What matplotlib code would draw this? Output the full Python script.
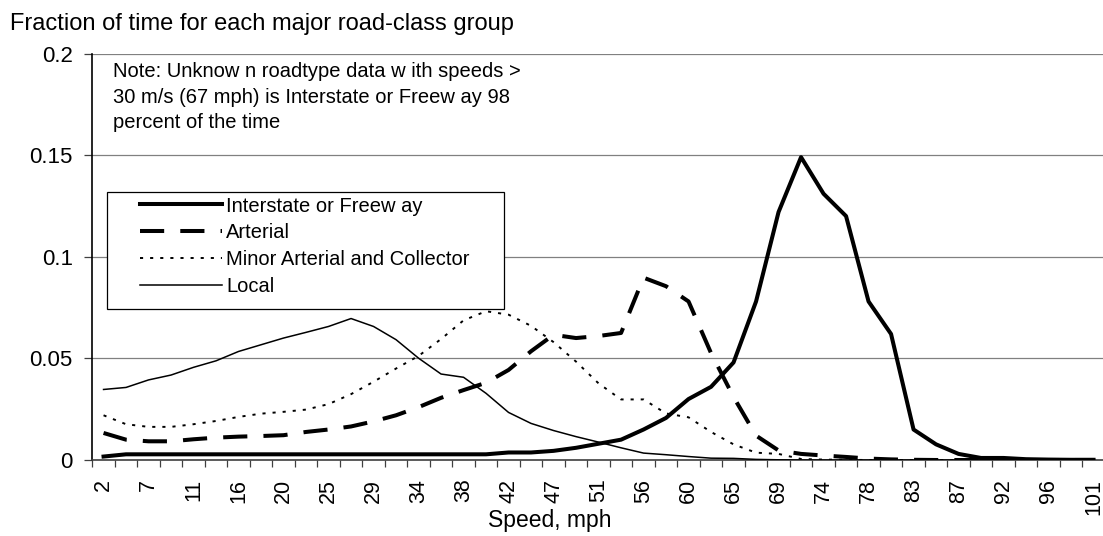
import matplotlib
matplotlib.use('Agg')
import matplotlib.pyplot as plt
import numpy as np
from matplotlib.patches import Rectangle

plt.rcParams['font.family'] = ['Liberation Sans', 'DejaVu Sans']

# ---- data ----
speeds = [2, 4, 7, 9, 11, 13, 16, 18, 20, 22, 25, 27, 29, 31, 34, 36, 38, 40, 42, 45,
          47, 49, 51, 54, 56, 58, 60, 63, 65, 67, 69, 72, 74, 76, 78, 81, 83, 85, 87, 89,
          92, 94, 96, 98, 101]

interstate = [0.0017, 0.0028, 0.0028, 0.0028, 0.0028, 0.0028, 0.0028, 0.0028, 0.0028, 0.0028,
              0.0028, 0.0028, 0.0028, 0.0028, 0.0028, 0.0028, 0.0028, 0.0028, 0.0037, 0.0037,
              0.0045, 0.006, 0.008, 0.010, 0.015, 0.0207, 0.030, 0.036, 0.048, 0.078,
              0.122, 0.149, 0.131, 0.120, 0.078, 0.062, 0.015, 0.0077, 0.003, 0.001,
              0.001, 0.0004, 0.0002, 0.0001, 0.0001]

arterial = [0.0133, 0.010, 0.0092, 0.0092, 0.0102, 0.011, 0.0115, 0.0118, 0.0122, 0.0138,
            0.015, 0.0165, 0.019, 0.022, 0.026, 0.0306, 0.0344, 0.038, 0.0443, 0.0535,
            0.0616, 0.060, 0.061, 0.0625, 0.0897, 0.0855, 0.078, 0.0526, 0.031, 0.012,
            0.0047, 0.003, 0.0022, 0.0015, 0.0007, 0.0003, 0.0001, 0, 0, 0,
            0, 0, 0, 0, 0]

minor = [0.022, 0.0176, 0.0163, 0.0163, 0.0176, 0.0192, 0.0212, 0.0228, 0.0237, 0.0248,
         0.0275, 0.0324, 0.0385, 0.045, 0.0512, 0.0595, 0.0687, 0.0732, 0.0715, 0.066,
         0.058, 0.0484, 0.0377, 0.0298, 0.0298, 0.0229, 0.021, 0.0138, 0.0077, 0.0036,
         0.003, 0.0005, 0.0002, 0.0001, 0, 0, 0, 0, 0, 0,
         0, 0, 0, 0, 0]

local = [0.0347, 0.0357, 0.0394, 0.0418, 0.0456, 0.0488, 0.0534, 0.0567, 0.060, 0.0628,
         0.0657, 0.0696, 0.0657, 0.0592, 0.0501, 0.0423, 0.0407, 0.0328, 0.0234, 0.018,
         0.0145, 0.0115, 0.0088, 0.006, 0.0034, 0.0026, 0.0017, 0.0009, 0.0008, 0.0003,
         0.0001, 0, 0, 0, 0, 0, 0, 0, 0, 0,
         0, 0, 0, 0, 0]

series_names = ['Interstate or Freew ay', 'Arterial', 'Minor Arterial and Collector', 'Local']
y_ticks = [0, 0.05, 0.1, 0.15, 0.2]
y_ticklabels = ['0', '0.05', '0.1', '0.15', '0.2']
title = 'Fraction of time for each major road-class group'
note = ('Note: Unknow n roadtype data w ith speeds >\n'
        '30 m/s (67 mph) is Interstate or Freew ay 98\n'
        'percent of the time')
xlabel = 'Speed, mph'

# ---- layout (pixels) ----
W, H = 1103, 536
ax_l, ax_r, ax_t, ax_b = 92.3, 1104.8, 53.5, 460.0
axw, axh = ax_r - ax_l, ax_b - ax_t

def axx(px):
    return (px - ax_l) / axw

def axy(py):
    return (ax_b - py) / axh

fig = plt.figure(figsize=(W / 100, H / 100), dpi=100)
fig.patch.set_facecolor('white')
ax = fig.add_axes([ax_l / W, 1 - ax_b / H, axw / W, axh / H])

x = np.arange(len(speeds))
ax.plot(x, interstate, color='black', lw=2.9, label=series_names[0], zorder=3)
ax.plot(x, arterial, color='black', lw=2.9, ls=(0, (6.0, 4.0)), label=series_names[1], zorder=3)
ax.plot(x, minor, color='black', lw=1.4, ls=(0, (1.6, 3.6)), label=series_names[2], zorder=3)
ax.plot(x, local, color='black', lw=1.1, label=series_names[3], zorder=3)

ax.set_xlim(-0.5, len(speeds) - 0.5)
ax.set_ylim(0, 0.2)

ax.set_yticks(y_ticks)
ax.set_yticklabels(y_ticklabels)
ax.yaxis.grid(True, color='#808080', lw=0.9)
ax.set_axisbelow(True)
for s in ['top', 'right']:
    ax.spines[s].set_visible(False)
ax.spines['left'].set_color('black')
ax.spines['left'].set_linewidth(1.2)
ax.spines['bottom'].set_color('#404040')
ax.spines['bottom'].set_linewidth(1.2)
ax.tick_params(axis='y', direction='out', length=6, width=0.9, pad=8,
               labelsize=16, color='#404040')

ax.set_xticks(x[::2])
ax.set_xticklabels([str(s) for s in speeds[::2]], rotation=90)
ax.tick_params(axis='x', which='major', length=0, pad=13.5, labelsize=15.5)
ax.set_xticks(np.arange(-0.5, len(speeds), 1), minor=True)
ax.tick_params(axis='x', which='minor', direction='out', length=5, width=0.9, color='#404040')

ax.set_xlabel(xlabel, fontsize=16.5)
ax.xaxis.set_label_coords(axx(550), axy(509))

ax.set_title(title, loc='left', fontsize=17, pad=0, x=axx(10), y=axy(30))

ax.text(axx(113), axy(62), note, transform=ax.transAxes, ha='left', va='top',
        fontsize=14.5, linespacing=1.45)

# legend frame
ax.add_patch(Rectangle((axx(107), axy(309.3)), axx(504) - axx(107), axy(192) - axy(309.3),
                       transform=ax.transAxes, facecolor='white', edgecolor='black',
                       lw=0.9, zorder=4))
leg = ax.legend(loc='upper left', bbox_to_anchor=(axx(140), axy(196.5)), frameon=False,
                fontsize=14.5, handlelength=4.08, handletextpad=0.2, labelspacing=0.39,
                borderpad=0, borderaxespad=0)
leg.set_zorder(5)

fig.savefig('out.png', dpi=100)
